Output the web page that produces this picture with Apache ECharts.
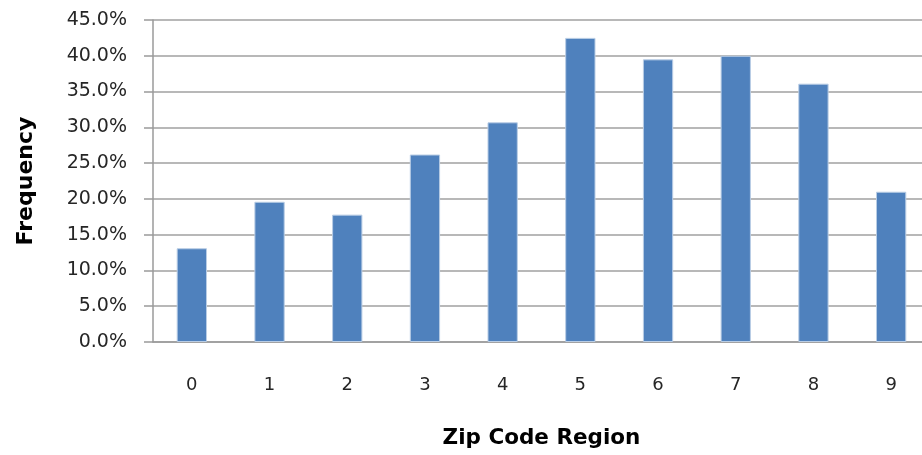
<!DOCTYPE html>
<html>
<head>
<meta charset="utf-8">
<script src="https://cdn.jsdelivr.net/npm/echarts@6/dist/echarts.min.js"></script>
<style>html,body{margin:0;padding:0;background:#fff;}#c{width:922px;height:455px;}</style>
</head>
<body>
<div id="c"></div>
<script>
const categories = ['0','1','2','3','4','5','6','7','8','9'];
const frequency = [13.1, 19.6, 17.8, 26.2, 30.7, 42.5, 39.5, 40.0, 36.1, 21.0];
const yTicks = {min: 0, max: 45, interval: 5};
const xTitle = 'Zip Code Region';
const yTitle = 'Frequency';

const chart = echarts.init(document.getElementById('c'), null, {renderer: 'canvas'});
chart.setOption({
  animation: false,
  backgroundColor: '#ffffff',
  grid: {left: 153, width: 777, top: 20, height: 322, containLabel: false, outerBoundsMode: 'none'},
  xAxis: {
    type: 'category',
    data: categories,
    name: xTitle,
    nameLocation: 'middle',
    nameGap: 85,
    nameTextStyle: {fontFamily: 'DejaVu Sans', fontWeight: 'bold', fontSize: 21.5, color: '#000'},
    axisLine: {show: true, lineStyle: {color: '#9a9a9a', width: 1.5}},
    axisTick: {show: false},
    axisLabel: {fontFamily: 'DejaVu Sans', fontSize: 18, color: '#262626', margin: 34}
  },
  yAxis: {
    type: 'value',
    min: yTicks.min, max: yTicks.max, interval: yTicks.interval,
    name: yTitle,
    nameLocation: 'middle',
    nameGap: 116,
    nameRotate: 90,
    nameTextStyle: {fontFamily: 'DejaVu Sans', fontWeight: 'bold', fontSize: 22, color: '#000'},
    axisLine: {show: true, lineStyle: {color: '#9a9a9a', width: 1.5}},
    axisTick: {show: true, length: 9, lineStyle: {color: '#9a9a9a', width: 1.5}},
    axisLabel: {fontFamily: 'DejaVu Sans', fontSize: 19, color: '#262626', margin: 26,
      formatter: v => v.toFixed(1) + '%'},
    splitLine: {show: true, lineStyle: {color: '#a0a0a0', width: 1.5}}
  },
  series: [{
    type: 'bar',
    data: frequency,
    barWidth: '39%',
    itemStyle: {color: '#4f81bd', borderColor: '#b9cde5', borderWidth: 1}
  }]
});
</script>
</body>
</html>
